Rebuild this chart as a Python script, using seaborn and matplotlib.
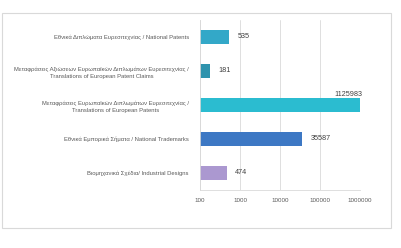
import matplotlib
matplotlib.use("Agg")
import matplotlib.pyplot as plt
import seaborn as sns
import pandas as pd
from matplotlib.patches import Rectangle

categories = [
    "Εθνικά Διπλώματα Ευρεσιτεχνίας / National Patents",
    "Μεταφράσεις Αξιώσεων Ευρωπαϊκών Διπλωμάτων Ευρεσιτεχνίας /\nTranslations of European Patent Claims",
    "Μεταφράσεις Ευρωπαϊκών Διπλωμάτων Ευρεσιτεχνίας /\nTranslations of European Patents",
    "Εθνικά Εμπορικά Σήματα / National Trademarks",
    "Βιομηχανικά Σχέδια/ Industrial Designs",
]
values = [535, 181, 1125983, 35587, 474]
tick_values = [100, 1000, 10000, 100000, 1000000]
tick_labels = ["100", "1000", "10000", "100000", "1000000"]
colors = ["#33a8c8", "#2f93ad", "#2bbcd0", "#3d78c4", "#ab98d0"]

sns.set_theme(style="white")
plt.rcParams["font.family"] = ["Liberation Sans", "DejaVu Sans"]

df = pd.DataFrame({"cat": categories, "val": values})

fig = plt.figure(figsize=(4.01, 2.48), dpi=100)
fig.patch.set_facecolor("white")
fig.patches.append(Rectangle((2 / 401, 1 - 228 / 248), 389 / 401, 215 / 248,
                             transform=fig.transFigure, fill=False,
                             edgecolor="#d9d9d9", linewidth=0.8))

ax = fig.add_axes([200 / 401, 1 - 190 / 248, 160 / 401, 170 / 248])
sns.barplot(data=df, y="cat", x="val", hue="cat", palette=colors,
            legend=False, orient="h", width=0.42, ax=ax, log_scale=True,
            edgecolor="none", saturation=1)
ax.set_xscale("log")
ax.set_xlim(100, 1000000)
ax.set_xticks(tick_values)
ax.set_xticklabels(tick_labels)
ax.minorticks_off()
ax.tick_params(axis="x", labelsize=4.5, colors="#595959", length=0, pad=6)
ax.tick_params(axis="y", labelsize=4.2, colors="#595959", length=0, pad=8)
for lbl in ax.get_yticklabels():
    lbl.set_horizontalalignment("right")
    lbl.set_multialignment("center")
    lbl.set_linespacing(1.5)
ax.set_xlabel("")
ax.set_ylabel("")
ax.grid(axis="x", color="#d9d9d9", linewidth=0.6)
ax.set_axisbelow(True)
for s in ["top", "right"]:
    ax.spines[s].set_visible(False)
ax.spines["left"].set_color("#d9d9d9")
ax.spines["bottom"].set_color("#d9d9d9")
ax.spines["left"].set_linewidth(0.6)
ax.spines["bottom"].set_linewidth(0.6)

for i, v in enumerate(values):
    if v > 1000000:
        ax.annotate(f"{v}", xy=(1000000, i), xytext=(2, 5),
                    textcoords="offset points", va="bottom", ha="right",
                    fontsize=5.2, color="#404040", annotation_clip=False)
    else:
        ax.annotate(f"{v}", xy=(v, i), xytext=(6, 0),
                    textcoords="offset points", va="center", ha="left",
                    fontsize=5.2, color="#404040", annotation_clip=False)

fig.savefig("out.png", dpi=100)
